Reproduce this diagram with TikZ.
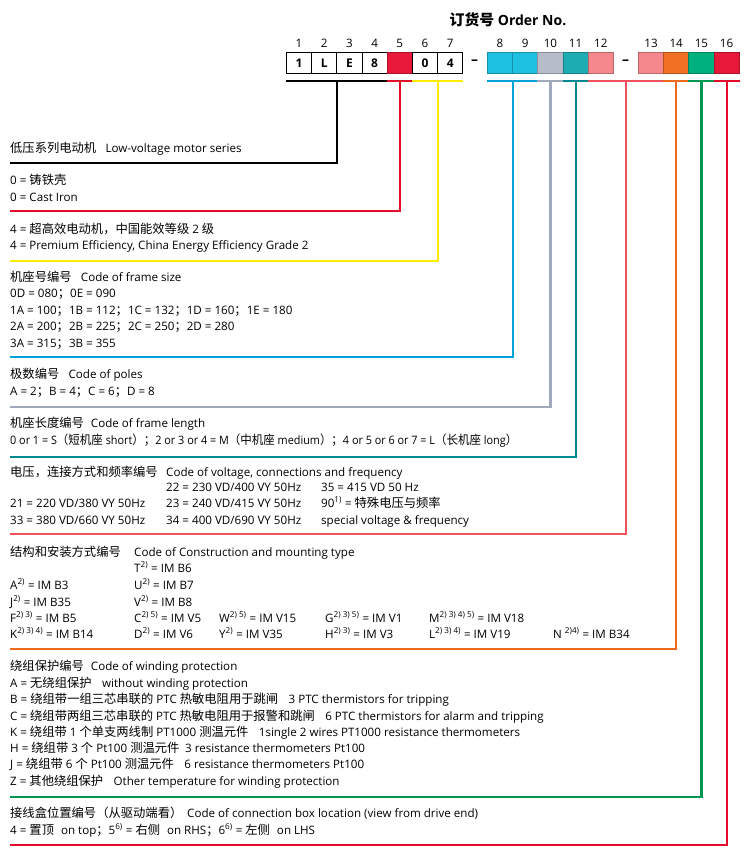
\documentclass[tikz,border=0pt]{standalone}
\usepackage{fontspec}
\usetikzlibrary{calc}
\setmainfont{Open Sans}
\newfontfamily\cjkfont{Noto Sans CJK SC}[Scale=1.06]
\newcommand\zh[1]{{\cjkfont #1}}
\newcommand\supr[1]{\textsuperscript{#1}}
\newcommand\fs{\fontsize{11.6}{13}\selectfont}
\newcommand\gap{\hspace{0.9em}}
\definecolor{cred}{RGB}{231,24,58}
\definecolor{credline}{RGB}{228,12,42}
\definecolor{cyel}{RGB}{255,236,0}
\definecolor{ccyan}{RGB}{30,192,226}
\definecolor{ccyanline}{RGB}{0,162,218}
\definecolor{cgray}{RGB}{182,188,202}
\definecolor{cgrayline}{RGB}{160,168,190}
\definecolor{cteal}{RGB}{28,172,178}
\definecolor{ctealline}{RGB}{0,136,145}
\definecolor{csalmon}{RGB}{244,136,140}
\definecolor{csalmonline}{RGB}{240,80,90}
\definecolor{corange}{RGB}{242,112,35}
\definecolor{corangeline}{RGB}{238,106,30}
\definecolor{cgreen}{RGB}{0,176,125}
\definecolor{cgreenline}{RGB}{0,150,82}
\begin{document}
\begin{tikzpicture}[x=1pt,y=-1pt,
  t/.style={anchor=base west, inner sep=0pt, font=\fs},
  num/.style={anchor=base, inner sep=0pt, font=\fs},
  box/.style={draw=black, line width=0.8pt, minimum width=25.2pt, minimum height=21pt, inner sep=0pt, anchor=north west, font=\fontsize{12}{14}\selectfont\bfseries},
  cbox/.style={box, fill=#1, draw=#1!75!black},
  dashsym/.style={inner sep=0pt, font=\fontsize{14}{15}\selectfont\bfseries},
  lead/.style={line width=2.2pt}]
\path[use as bounding box, fill=white] (0,0) rectangle (750,860);

% title
\node[anchor=center, inner sep=0pt, font=\fontsize{14}{16}\selectfont\bfseries] (title) at (508,20) {\zh{订货号} Order No.};

% boxes
\node[box] (b1) at (286,52) {1};
\node[box] (b2) at (311.2,52) {L};
\node[box] (b3) at (336.4,52) {E};
\node[box] (b4) at (361.6,52) {8};
\node[cbox=cred] (b5) at (386.8,52) {};
\node[box] (b6) at (412,52) {0};
\node[box] (b7) at (437.2,52) {4};
\node[dashsym] (d1) at (474.5,62.5) {–};
\node[cbox=ccyan] (b8) at (487,52) {};
\node[cbox=ccyan] (b9) at (512.2,52) {};
\node[cbox=cgray] (b10) at (537.4,52) {};
\node[cbox=cteal] (b11) at (562.6,52) {};
\node[cbox=csalmon] (b12) at (587.8,52) {};
\node[dashsym] (d2) at (625.5,62.5) {–};
\node[cbox=csalmon] (b13) at (638,52) {};
\node[cbox=corange] (b14) at (663.2,52) {};
\node[cbox=cgreen] (b15) at (688.4,52) {};
\node[cbox=cred] (b16) at (713.6,52) {};

% position numbers
\foreach \i in {1,...,16}{
  \node[num] (n\i) at ($(b\i.north)+(0,-5)$) {\i};
}

% bar level and section levels
\coordinate (bar) at (0,81);
\coordinate (s1) at (10,163);
\coordinate (s2) at (10,211);
\coordinate (s3) at (10,261);
\coordinate (s4) at (10,357);
\coordinate (s5) at (10,407);
\coordinate (s6) at (10,457);
\coordinate (s7) at (10,534);
\coordinate (s8) at (10,649);
\coordinate (s9) at (10,797);
\coordinate (s10) at (10,845);
\coordinate (mid) at ($(b12.south east)!0.5!(b13.south west)$);

% leaders
\draw[lead, black] (b1.south west |- bar) -- (b4.south east |- bar);
\draw[lead, black] (b2.south east |- bar) -- (b2.south east |- s1) -- (s1);
\draw[lead, credline] (b5.south west |- bar) -- (b5.south east |- bar);
\draw[lead, credline] (b5.south |- bar) -- (b5.south |- s2) -- (s2);
\draw[lead, cyel] (b6.south west |- bar) -- (b7.south east |- bar);
\draw[lead, cyel] (b6.south east |- bar) -- (b6.south east |- s3) -- (s3);
\draw[lead, ccyanline] (b8.south west |- bar) -- (b9.south east |- bar);
\draw[lead, ccyanline] (b8.south east |- bar) -- (b8.south east |- s4) -- (s4);
\draw[lead, cgrayline] (b10.south west |- bar) -- (b10.south east |- bar);
\draw[lead, cgrayline] (b10.south |- bar) -- (b10.south |- s5) -- (s5);
\draw[lead, ctealline] (b11.south west |- bar) -- (b11.south east |- bar);
\draw[lead, ctealline] (b11.south |- bar) -- (b11.south |- s6) -- (s6);
\draw[lead, csalmonline] (b12.south west |- bar) -- (b13.south east |- bar);
\draw[lead, csalmonline] (mid |- bar) -- (mid |- s7) -- (s7);
\draw[lead, corangeline] (b14.south west |- bar) -- (b14.south east |- bar);
\draw[lead, corangeline] (b14.south |- bar) -- (b14.south |- s8) -- (s8);
\draw[lead, cgreenline] (b15.south west |- bar) -- (b15.south east |- bar);
\draw[lead, cgreenline] (b15.south |- bar) -- (b15.south |- s9) -- (s9);
\draw[lead, credline] (b16.south west |- bar) -- (b16.south east |- bar);
\draw[lead, credline] (b16.south |- bar) -- (b16.south |- s10) -- (s10);

% section 1
\node[t] (a1) at (10,152) {\zh{低压系列电动机}\hspace{0.8em}Low-voltage motor series};
% section 2
\node[t] (a2) at (10,184) {0 = \zh{铸铁壳}};
\node[t] (a3) at (10,201) {0 = Cast Iron};
% section 3
\node[t] (a4) at (10,233) {4 = \zh{超高效电动机，中国能效等级} 2 \zh{级}};
\node[t] (a5) at (10,249) {4 = Premium Efficiency, China Energy Efficiency Grade 2};
% section 4
\node[t] (c1) at (10,281) {\zh{机座号编号}\hspace{0.8em}Code of frame size};
\node[t] (c2) at (10,297) {0D = 080\zh{；}0E = 090};
\node[t] (c3) at (10,314) {1A = 100\zh{；}1B = 112\zh{；}1C = 132\zh{；}1D = 160\zh{；}1E = 180};
\node[t] (c4) at (10,330) {2A = 200\zh{；}2B = 225\zh{；}2C = 250\zh{；}2D = 280};
\node[t] (c5) at (10,347) {3A = 315\zh{；}3B = 355};
% section 5
\node[t] (p1) at (10,378) {\zh{极数编号}\hspace{0.8em}Code of poles};
\node[t] (p2) at (10,395) {A = 2\zh{；}B = 4\zh{；}C = 6\zh{；}D = 8};
% section 6
\node[t] (l1) at (10,427) {\zh{机座长度编号}\hspace{0.6em}Code of frame length};
\node[t, xscale=0.935, transform shape] (l2) at (10,444) {0 or 1 = S\zh{（短机座} short\zh{）；}2 or 3 or 4 = M\zh{（中机座} medium\zh{）；}4 or 5 or 6 or 7 = L\zh{（长机座} long\zh{）}};
% section 7
\node[t] (v1) at (10,476) {\zh{电压，连接方式和频率编号}};
\node[t] (v1e) at (166,476) {Code of voltage, connections and frequency};
\node[t] (v22) at (166,491) {22 = 230 VD/400 VY 50Hz};
\node[t] (v35) at (321,491) {35 = 415 VD 50 Hz};
\node[t] (v21) at (10,507) {21 = 220 VD/380 VY 50Hz};
\node[t] (v23) at (166,507) {23 = 240 VD/415 VY 50Hz};
\node[t] (v90) at (321,507) {90\supr{1)} = \zh{特殊电压与频率}};
\node[t] (v33) at (10,524) {33 = 380 VD/660 VY 50Hz};
\node[t] (v34) at (166,524) {34 = 400 VD/690 VY 50Hz};
\node[t] (vsp) at (321,524) {special voltage \& frequency};
% section 8
\node[t] (m1) at (10,556) {\zh{结构和安装方式编号}};
\node[t] (m1e) at (134,556) {Code of Construction and mounting type};
\node[t] (mT) at (134,572) {T\supr{2)} = IM B6};
\node[t] (mA) at (10,589) {A\supr{2)} = IM B3};
\node[t] (mU) at (134,589) {U\supr{2)} = IM B7};
\node[t] (mJ) at (10,606) {J\supr{2)} = IM B35};
\node[t] (mV) at (134,606) {V\supr{2)} = IM B8};
\node[t] (mF) at (10,622) {F\supr{2) 3)} = IM B5};
\node[t] (mC) at (134,622) {C\supr{2) 5)} = IM V5};
\node[t] (mW) at (219,622) {W\supr{2) 5)} = IM V15};
\node[t] (mG) at (325,622) {G\supr{2) 3) 5)} = IM V1};
\node[t] (mM) at (429,622) {M\supr{2) 3) 4) 5)} = IM V18};
\node[t] (mK) at (10,638) {K\supr{2) 3) 4)} = IM B14};
\node[t] (mD) at (134,638) {D\supr{2)} = IM V6};
\node[t] (mY) at (219,638) {Y\supr{2)} = IM V35};
\node[t] (mH) at (325,638) {H\supr{2) 3)} = IM V3};
\node[t] (mL) at (429,638) {L\supr{2) 3) 4)} = IM V19};
\node[t] (mN) at (553,638) {N \supr{2)4)} = IM B34};
% section 9
\node[t] (w1) at (10,670) {\zh{绕组保护编号}\hspace{0.6em}Code of winding protection};
\node[t] (w2) at (10,687) {A = \zh{无绕组保护}\gap without winding protection};
\node[t] (w3) at (10,703) {B = \zh{绕组带一组三芯串联的} PTC \zh{热敏电阻用于跳闸}\gap 3 PTC thermistors for tripping};
\node[t] (w4) at (10,720) {C = \zh{绕组带两组三芯串联的} PTC \zh{热敏电阻用于报警和跳闸}\gap 6 PTC thermistors for alarm and tripping};
\node[t] (w5) at (10,736) {K = \zh{绕组带} 1 \zh{个单支两线制} PT1000 \zh{测温元件}\gap 1single 2 wires PT1000 resistance thermometers};
\node[t] (w6) at (10,752) {H = \zh{绕组带} 3 \zh{个} Pt100 \zh{测温元件}\hspace{0.5em}3 resistance thermometers Pt100};
\node[t] (w7) at (10,768) {J = \zh{绕组带} 6 \zh{个} Pt100 \zh{测温元件}\gap 6 resistance thermometers Pt100};
\node[t] (w8) at (10,785) {Z = \zh{其他绕组保护}\gap Other temperature for winding protection};
% section 10
\node[t] (x1) at (10,817) {\zh{接线盒位置编号（从驱动端看）}};
\node[t] (x1e) at (187,817) {Code of connection box location (view from drive end)};
\node[t] (x2) at (10,834) {4 = \zh{置顶}\hspace{0.6em}on top\zh{；}5\supr{6)} = \zh{右侧}\hspace{0.6em}on RHS\zh{；}6\supr{6)} = \zh{左侧}\hspace{0.6em}on LHS};
\end{tikzpicture}
\end{document}
